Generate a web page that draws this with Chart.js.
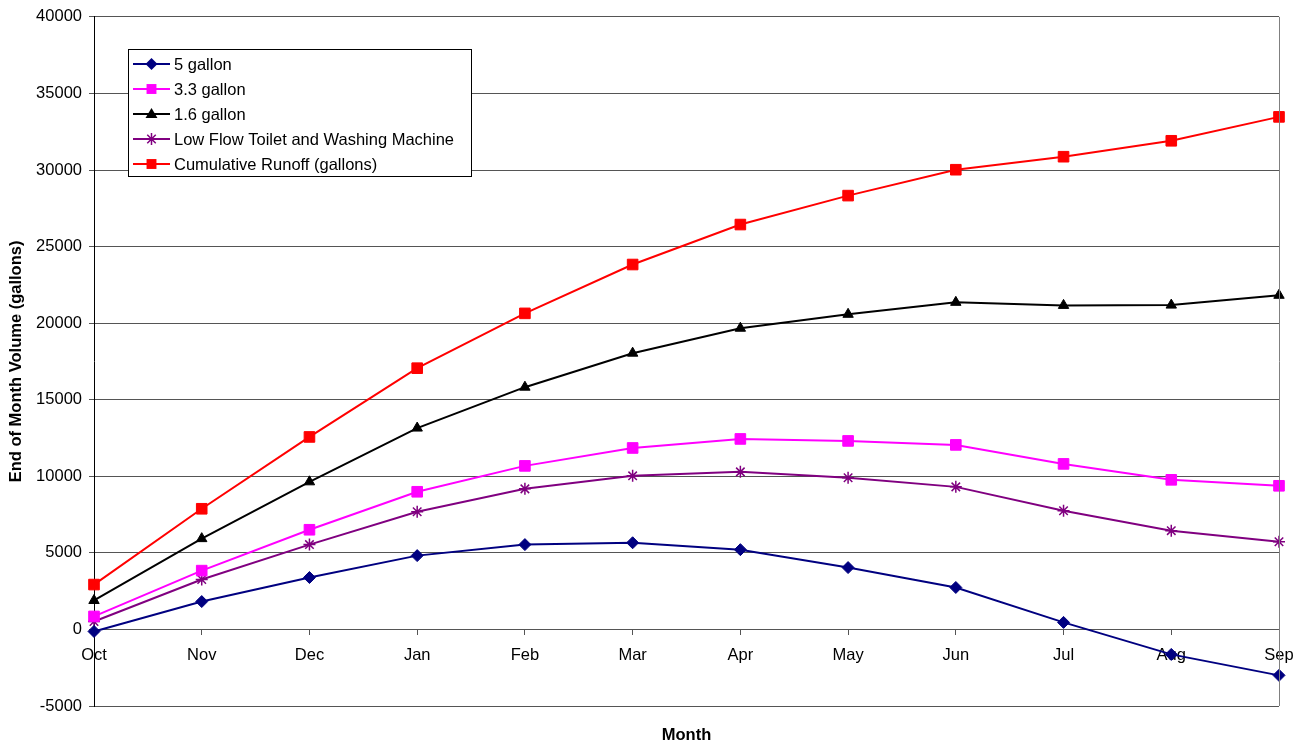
<!DOCTYPE html>
<html><head><meta charset="utf-8">
<script src="https://cdn.jsdelivr.net/npm/chart.js@4/dist/chart.umd.min.js"></script>
<style>html,body{margin:0;padding:0;background:#fff;overflow:hidden}</style>
</head><body>
<canvas id="c" width="1299" height="745"></canvas>
<script>
const months = ['Oct','Nov','Dec','Jan','Feb','Mar','Apr','May','Jun','Jul','Aug','Sep'];
const gal5 = [-130, 1820, 3390, 4820, 5540, 5660, 5210, 4040, 2740, 460, -1630, -3000];
const gal33 = [850, 3840, 6510, 8990, 10680, 11850, 12440, 12310, 12050, 10810, 9770, 9380];
const gal16 = [1890, 5930, 9640, 13150, 15820, 18040, 19670, 20580, 21360, 21160, 21180, 21820];
const lowFlow = [520, 3260, 5540, 7690, 9180, 10030, 10290, 9900, 9310, 7750, 6450, 5730];
const runoff = [2930, 7880, 12570, 17060, 20640, 23830, 26440, 28330, 30020, 30870, 31910, 33470];
const seriesNames = ['5 gallon','3.3 gallon','1.6 gallon','Low Flow Toilet and Washing Machine','Cumulative Runoff (gallons)'];
const yTicks = {min: -5000, max: 40000, step: 5000};
const xTitle = 'Month';
const yTitle = 'End of Month Volume (gallons)';

const FONT = '"Liberation Sans", Arial, sans-serif';
const FS = 16.5;

function ds(label, data, color, style, radius, fill) {
  return {label, data, borderColor: color, backgroundColor: fill, pointStyle: style,
    pointRadius: radius, pointHoverRadius: radius, pointBorderColor: color,
    pointBackgroundColor: fill, pointBorderWidth: style === 'star' ? 1.5 : 1,
    borderWidth: 2, tension: 0, clip: false};
}

const datasets = [
  ds(seriesNames[0], gal5, '#000080', 'rectRot', 6, '#000080'),
  ds(seriesNames[1], gal33, '#FF00FF', 'rect', 7.5, '#FF00FF'),
  ds(seriesNames[2], gal16, '#000000', 'triangle', 6, '#000000'),
  ds(seriesNames[3], lowFlow, '#800080', 'star', 6, '#800080'),
  ds(seriesNames[4], runoff, '#FF0000', 'rect', 7.5, '#FF0000')
];

function drawMarker(ctx, style, x, y, r, color) {
  ctx.save();
  ctx.fillStyle = color; ctx.strokeStyle = color; ctx.lineWidth = 1.5;
  ctx.beginPath();
  if (style === 'rectRot') {
    ctx.moveTo(x, y - r); ctx.lineTo(x + r, y); ctx.lineTo(x, y + r); ctx.lineTo(x - r, y); ctx.closePath(); ctx.fill();
  } else if (style === 'rect') {
    const s = Math.SQRT1_2 * r; ctx.rect(x - s, y - s, 2 * s, 2 * s); ctx.fill();
  } else if (style === 'triangle') {
    const w = r * Math.sqrt(3) / 2 * 1.15;
    ctx.moveTo(x, y - r); ctx.lineTo(x + w, y + r / 2 + 1); ctx.lineTo(x - w, y + r / 2 + 1); ctx.closePath(); ctx.fill();
  } else if (style === 'star') {
    for (let a = 0; a < 4; a++) {
      const ang = a * Math.PI / 4;
      ctx.moveTo(x - Math.cos(ang) * r, y - Math.sin(ang) * r);
      ctx.lineTo(x + Math.cos(ang) * r, y + Math.sin(ang) * r);
    }
    ctx.stroke();
  }
  ctx.restore();
}

const extras = {
  id: 'extras',
  afterDraw(chart) {
    const {ctx, chartArea: ca} = chart;
    ctx.save();
    ctx.strokeStyle = '#808080'; ctx.lineWidth = 1;
    ctx.beginPath(); ctx.moveTo(Math.round(ca.right) + 0.5, ca.top); ctx.lineTo(Math.round(ca.right) + 0.5, ca.bottom); ctx.stroke();
    ctx.fillStyle = '#000'; ctx.font = 'bold ' + FS + 'px ' + FONT;
    ctx.textAlign = 'center'; ctx.textBaseline = 'middle';
    ctx.fillText(xTitle, (ca.left + ca.right) / 2, 735);
    const lx = 128.5, ly = 49.5, lw = 343, lh = 127;
    ctx.fillStyle = '#fff'; ctx.fillRect(lx, ly, lw, lh);
    ctx.strokeStyle = '#000'; ctx.lineWidth = 1; ctx.strokeRect(lx, ly, lw, lh);
    ctx.font = FS + 'px ' + FONT; ctx.textAlign = 'left';
    chart.data.datasets.forEach((d, i) => {
      const y = 64 + i * 25;
      ctx.strokeStyle = d.borderColor; ctx.lineWidth = 2;
      ctx.beginPath(); ctx.moveTo(133, y); ctx.lineTo(170, y); ctx.stroke();
      drawMarker(ctx, d.pointStyle, 151.5, y, d.pointStyle === 'rect' ? 7 : 6, d.borderColor);
      ctx.fillStyle = '#000';
      ctx.fillText(d.label, 174, y + 1);
    });
    ctx.restore();
  }
};

new Chart(document.getElementById('c'), {
  type: 'line',
  data: {labels: months, datasets},
  options: {
    responsive: false, animation: false, devicePixelRatio: 1,
    layout: {padding: {left: 0, top: 15, right: 20, bottom: 39}},
    plugins: {legend: {display: false}, tooltip: {enabled: false}, title: {display: false}},
    scales: {
      x: {
        type: 'category', offset: false, position: {y: 0},
        afterFit(scale) { scale.paddingLeft = 0; scale.paddingRight = 0; },
        grid: {drawOnChartArea: false, drawTicks: true, tickLength: 5, color: '#555'},
        border: {display: true, color: '#555', width: 1},
        ticks: {color: '#000', font: {family: FONT, size: FS}, padding: 11, maxRotation: 0, autoSkip: false}
      },
      y: {
        min: yTicks.min, max: yTicks.max,
        afterFit(scale) { scale.width = 94; },
        ticks: {stepSize: yTicks.step, color: '#000', font: {family: FONT, size: FS}, padding: 7,
          callback: v => String(v)},
        grid: {color: '#555', tickLength: 5, lineWidth: 1},
        border: {display: true, color: '#000', width: 1},
        title: {display: true, text: yTitle, color: '#000', font: {family: FONT, size: FS, weight: 'bold'}, padding: {top: 7, bottom: 0}}
      }
    }
  },
  plugins: [extras]
});
</script>
</body></html>
